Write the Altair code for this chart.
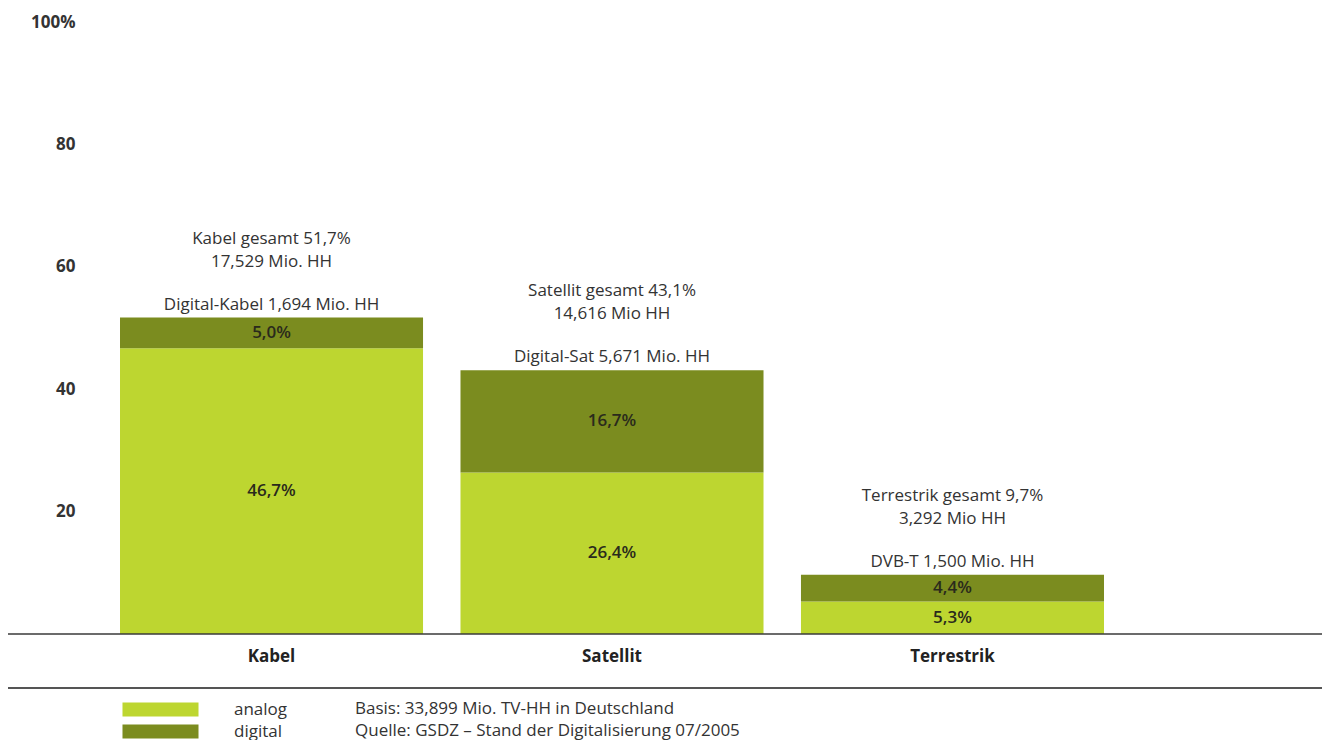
import altair as alt
import pandas as pd

FONT = "Open Sans"
LIGHT = "#bdd630"
DARK = "#7b8c1f"
FS = 17

categories = ["Kabel", "Satellit", "Terrestrik"]
analog = [46.7, 26.4, 5.3]
digital = [5.0, 16.7, 4.4]
analog_labels = ["46,7%", "26,4%", "5,3%"]
digital_labels = ["5,0%", "16,7%", "4,4%"]
totals = [51.7, 43.1, 9.7]
total_line1 = ["Kabel gesamt 51,7%", "Satellit gesamt 43,1%", "Terrestrik gesamt 9,7%"]
total_line2 = ["17,529 Mio. HH", "14,616 Mio HH", "3,292 Mio HH"]
digital_hh = ["Digital-Kabel 1,694 Mio. HH", "Digital-Sat 5,671 Mio. HH", "DVB-T 1,500 Mio. HH"]
y_ticks = [20, 40, 60, 80, 100]
notes = ["Basis: 33,899 Mio. TV-HH in Deutschland",
         "Quelle: GSDZ – Stand der Digitalisierung 07/2005"]

rows = []
for i, c in enumerate(categories):
    rows.append({"cat": c, "type": "analog", "value": analog[i], "label": analog_labels[i], "order": 0})
    rows.append({"cat": c, "type": "digital", "value": digital[i], "label": digital_labels[i], "order": 1})
seg = pd.DataFrame(rows)

ann = pd.DataFrame({"cat": categories, "total": totals, "l1": total_line1,
                    "l2": total_line2, "l3": digital_hh})
notes_df = pd.DataFrame({"note": notes, "row": [0, 1]})

W, H = 1054, 612
PAD_L, PAD_T = 85, 22

x_enc = alt.X("cat:N", sort=categories,
              scale=alt.Scale(paddingInner=0.11, paddingOuter=0.1028),
              axis=alt.Axis(title=None, labelAngle=0, domain=False, ticks=False,
                            labelPadding=14, labelFontSize=FS, labelFontWeight="bold",
                            labelColor="#222222", labelFont=FONT))
x_plain = alt.X("cat:N", sort=categories, title=None)

y_scale = alt.Scale(domain=[0, 100], nice=False)

bars = alt.Chart(seg).mark_bar().encode(
    x=x_enc,
    y=alt.Y("value:Q", stack="zero", scale=y_scale,
            axis=alt.Axis(values=y_ticks, title=None, domain=False, ticks=False, grid=False,
                          labelPadding=10, labelFontSize=FS, labelFontWeight="bold",
                          labelColor="#333333", labelFont=FONT,
                          labelExpr="datum.value == 100 ? '100%' : datum.label")),
    color=alt.Color("type:N", scale=alt.Scale(domain=["analog", "digital"], range=[LIGHT, DARK]),
                    legend=alt.Legend(title=None, orient="none", legendX=67, legendY=679,
                                      symbolType="M-5.43,-1L5.43,-1L5.43,1L-5.43,1Z",
                                      symbolSize=196, symbolStrokeWidth=0, symbolOpacity=1,
                                      labelOffset=65, labelFontSize=FS, labelFont=FONT,
                                      labelColor="#333333", rowPadding=4, padding=0)),
    order=alt.Order("order:Q"),
)

seg_text = alt.Chart(seg).transform_stack(
    stack="value", groupby=["cat"], as_=["y0", "y1"],
    sort=[alt.SortField("order", "ascending")]
).transform_calculate(mid="(datum.y0 + datum.y1) / 2").mark_text(
    font=FONT, fontSize=FS, fontWeight=600, color="#2a2a1c", baseline="middle"
).encode(x=x_plain, y=alt.Y("mid:Q", scale=y_scale, axis=None), text="label:N")

txt_style = dict(font=FONT, fontSize=FS, color="#333333", baseline="middle")
t3 = alt.Chart(ann).mark_text(dy=-13, **txt_style).encode(
    x=x_plain, y=alt.Y("total:Q", scale=y_scale, axis=None), text="l3:N")
t2 = alt.Chart(ann).mark_text(dy=-56, **txt_style).encode(
    x=x_plain, y=alt.Y("total:Q", scale=y_scale, axis=None), text="l2:N")
t1 = alt.Chart(ann).mark_text(dy=-79, **txt_style).encode(
    x=x_plain, y=alt.Y("total:Q", scale=y_scale, axis=None), text="l1:N")

base_rule = alt.Chart(pd.DataFrame({"v": [0]})).mark_rule(color="#3a3a3a", strokeWidth=1.5).encode(
    x=alt.value(-77), x2=alt.value(1237), y=alt.Y("v:Q", scale=y_scale, axis=None))
bottom_rule = alt.Chart(pd.DataFrame({"v": [0]})).mark_rule(color="#555555", strokeWidth=2).encode(
    x=alt.value(-77), x2=alt.value(1237), y=alt.value(688 - PAD_T))

notes_layer = alt.Chart(notes_df).mark_text(
    font=FONT, fontSize=FS, color="#333333", align="left", baseline="middle"
).encode(
    x=alt.value(355 - PAD_L),
    y=alt.Y("row:Q", scale=alt.Scale(domain=[0, 1], range=[709 - PAD_T, 731 - PAD_T]), axis=None),
    text="note:N")

chart = alt.layer(bars, seg_text, t1, t2, t3, base_rule, bottom_rule, notes_layer).resolve_scale(
    y="independent"
).properties(
    width=W, height=H,
    background="white",
    autosize=alt.AutoSizeParams(type="none"),
    padding={"left": PAD_L, "top": PAD_T, "right": 1322 - PAD_L - W, "bottom": 740 - PAD_T - H},
).configure_view(stroke=None)

chart.save("out.html", embed_options={"renderer": "svg", "actions": False})
